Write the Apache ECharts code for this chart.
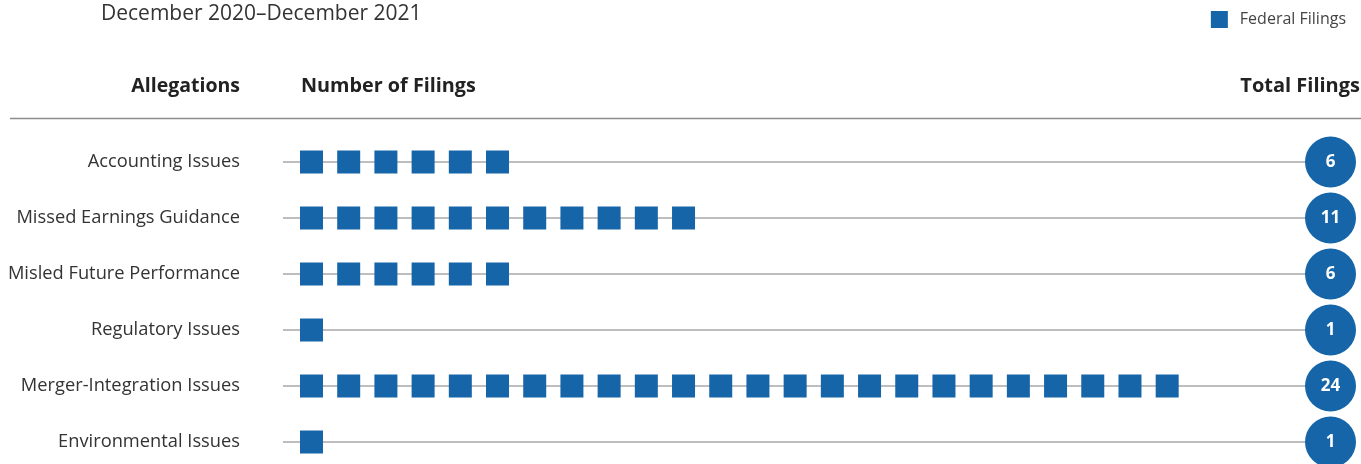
<!DOCTYPE html>
<html>
<head>
<meta charset="utf-8">
<script src="https://cdn.jsdelivr.net/npm/echarts@6/dist/echarts.min.js"></script>
<style>
  html, body { margin: 0; padding: 0; background: #fff; }
  #chart { width: 1361px; height: 464px; }
</style>
</head>
<body>
<div id="chart"></div>
<script>
// Securities class action allegations, federal filings
const categories = [
  'Accounting Issues',
  'Missed Earnings Guidance',
  'Misled Future Performance',
  'Regulatory Issues',
  'Merger-Integration Issues',
  'Environmental Issues'
];
const federalFilings = [6, 11, 6, 1, 24, 1];
const periodLabel = 'December 2020\u2013December 2021';
const seriesName = 'Federal Filings';

const BLUE = '#1565a8';
const FONT = '"Open Sans", "Noto Sans", sans-serif';

// one square per filing, placed at 1..n along the row
const squares = [];
categories.forEach((cat, i) => {
  for (let k = 1; k <= federalFilings[i]; k++) squares.push([k, cat]);
});
// total badge at the far end of each row
const totals = categories.map((cat, i) => [1, cat, federalFilings[i]]);

const chart = echarts.init(document.getElementById('chart'));
chart.setOption({
  animation: false,
  textStyle: { fontFamily: FONT },
  title: {
    text: periodLabel,
    left: 96, top: -1,
    textStyle: { fontSize: 21, fontWeight: 'normal', color: '#333', fontFamily: FONT }
  },
  legend: {
    data: [seriesName],
    right: 10, top: 6,
    icon: 'rect',
    itemWidth: 17, itemHeight: 17, itemGap: 10,
    textStyle: { fontSize: 16, color: '#444', fontFamily: FONT, padding: [0, 0, 0, 7] }
  },
  grid: { left: 283, right: 30.5, top: 162, bottom: 22, containLabel: false },
  xAxis: [
    { type: 'value', min: 0.234, max: 28.39, show: false },
    { type: 'value', min: 0, max: 1, show: false }
  ],
  yAxis: {
    type: 'category',
    data: categories,
    inverse: true,
    boundaryGap: false,
    axisLine: { show: false },
    axisTick: { show: false },
    splitLine: { show: true, lineStyle: { color: '#a8a8a8', width: 1.5 } },
    axisLabel: {
      margin: 43,
      fontSize: 18.3,
      color: '#333',
      fontFamily: FONT,
      padding: [0, 0, 10, 0]
    }
  },
  graphic: [
    { type: 'line', shape: { x1: 10, y1: 118.5, x2: 1361, y2: 118.5 },
      style: { stroke: '#8c8c8c', lineWidth: 1.5 } },
    { type: 'text', x: 240, y: 86,
      style: { text: 'Allegations', align: 'right', verticalAlign: 'middle',
               font: 'bold 19.5px ' + FONT, fill: '#222' } },
    { type: 'text', x: 301, y: 86,
      style: { text: 'Number of Filings', align: 'left', verticalAlign: 'middle',
               font: 'bold 19.8px ' + FONT, fill: '#222' } },
    { type: 'text', x: 1360, y: 86,
      style: { text: 'Total Filings', align: 'right', verticalAlign: 'middle',
               font: 'bold 20px ' + FONT, fill: '#222' } }
  ],
  series: [
    {
      name: seriesName,
      type: 'scatter',
      xAxisIndex: 0,
      symbol: 'rect',
      symbolSize: 23,
      itemStyle: { color: BLUE, opacity: 1 },
      data: squares,
      z: 3
    },
    {
      name: 'Total',
      type: 'scatter',
      xAxisIndex: 1,
      symbol: 'circle',
      symbolSize: 51,
      itemStyle: { color: BLUE, opacity: 1 },
      clip: false,
      encode: { x: 0, y: 1 },
      label: {
        show: true,
        position: 'inside',
        formatter: p => p.value[2],
        color: '#fff',
        fontWeight: 'bold',
        fontSize: 17,
        fontFamily: FONT
      },
      data: totals,
      z: 4
    }
  ]
});
</script>
</body>
</html>
